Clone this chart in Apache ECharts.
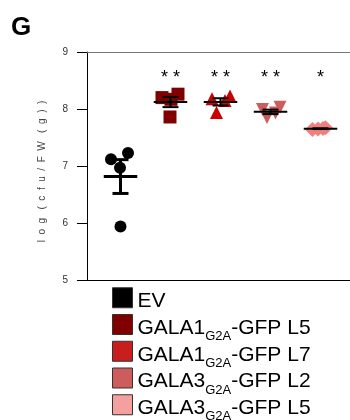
<!DOCTYPE html>
<html><head><meta charset="utf-8">
<script src="https://cdn.jsdelivr.net/npm/echarts@6/dist/echarts.min.js"></script>
<style>html,body{margin:0;padding:0;background:#fff}#c{width:350px;height:420px}</style>
</head><body><div id="c"></div>
<script>
// ---- data ----
const groupNames = ['EV', 'GALA1|G2A|-GFP L5', 'GALA1|G2A|-GFP L7', 'GALA3|G2A|-GFP L2', 'GALA3|G2A|-GFP L5'];
const evValues = [7.12, 7.23, 6.97, 5.94];
const gala1L5Values = [8.20, 8.26, 8.17, 7.86];
const gala1L7Values = [8.18, 8.23, 8.15, 7.94];
const gala3L2Values = [7.99, 7.85, 8.03, 7.93];
const gala3L5Values = [7.64, 7.67, 7.65, 7.66];
const jitter = [
  [-0.19, 0.15, -0.01, 0.0],
  [-0.17, 0.15, 0.01, -0.01],
  [-0.17, 0.19, 0.09, -0.08],
  [-0.16, -0.07, 0.19, 0.10],
  [-0.16, 0.10, -0.05, 0.05]
];
const significance = ['', '* *', '* *', '* *', '*'];
const yTicks = [5, 6, 7, 8, 9];
const yTitle = 'l  o  g   (  c  f  u  /  F  W   (  g  )  )';

// ---- styles ----
const allValues = [evValues, gala1L5Values, gala1L7Values, gala3L2Values, gala3L5Values];
const markerColors = ['#000000', '#800000', '#cc0000', '#cd5c5c', '#f08080'];
const legendColors = ['#000000', '#800000', '#c81e1e', '#cd5c5c', '#f4a0a0'];
const symbols = ['circle', 'rect', 'triangle', 'triangle', 'diamond'];
const rotations = [0, 0, 0, 180, 0];
const sizes = [12, 13, 13, 13, 15];
const FONT = '"Liberation Sans", Arial, sans-serif';

function stats(arr) {
  const n = arr.length;
  const m = arr.reduce((a, b) => a + b, 0) / n;
  const sd = Math.sqrt(arr.reduce((a, b) => a + (b - m) * (b - m), 0) / (n - 1));
  return { mean: m, sem: sd / Math.sqrt(n) };
}

const scatterSeries = allValues.map((vals, g) => ({
  type: 'scatter',
  name: groupNames[g],
  symbol: symbols[g],
  symbolRotate: rotations[g],
  symbolSize: sizes[g],
  itemStyle: { color: markerColors[g], opacity: 1 },
  z: 2,
  data: vals.map((v, i) => [g + 1 + jitter[g][i], v])
}));

const summaryData = allValues.map((vals, g) => {
  const s = stats(vals);
  return [g + 1, s.mean, s.sem, g];
});

const summarySeries = {
  type: 'custom',
  name: 'summary',
  z: 5,
  silent: true,
  data: summaryData,
  renderItem: function (params, api) {
    const x = api.value(0), m = api.value(1), se = api.value(2), g = api.value(3);
    const c = api.coord([x, m]);
    const hi = api.coord([x, m + se]);
    const lo = api.coord([x, m - se]);
    const halfMean = api.size([0.335, 0])[0];
    const halfCap = api.size([0.16, 0])[0];
    const lw = g === 0 ? 3 : 2;
    const st = { stroke: '#000', lineWidth: lw, fill: null };
    const star = api.coord([x, 8.54]);
    const children = [
      { type: 'line', shape: { x1: c[0] - halfMean, y1: c[1], x2: c[0] + halfMean, y2: c[1] }, style: st },
      { type: 'line', shape: { x1: c[0], y1: hi[1], x2: c[0], y2: lo[1] }, style: st },
      { type: 'line', shape: { x1: c[0] - halfCap, y1: hi[1], x2: c[0] + halfCap, y2: hi[1] }, style: st },
      { type: 'line', shape: { x1: c[0] - halfCap, y1: lo[1], x2: c[0] + halfCap, y2: lo[1] }, style: st }
    ];
    if (significance[g]) {
      children.push({ type: 'text', style: { text: significance[g], x: star[0], y: star[1], align: 'center', verticalAlign: 'middle', font: '18px ' + FONT, fill: '#000' } });
    }
    return { type: 'group', children: children };
  }
};

function legendLabel(name) {
  const parts = name.split('|');
  if (parts.length === 1) return '{m|' + parts[0] + '}';
  return '{m|' + parts[0] + '}{s|' + parts[1] + '}{m|' + parts[2] + '}';
}

const option = {
  animation: false,
  backgroundColor: '#fff',
  grid: { left: 87, right: 0, top: 52, bottom: 140, containLabel: false },
  xAxis: [
    { type: 'value', min: 0.33, max: 5.59, position: 'bottom',
      axisLine: { show: true, onZero: false, lineStyle: { color: '#000', width: 1 } },
      axisTick: { show: false }, axisLabel: { show: false }, splitLine: { show: false } },
    { type: 'value', min: 0.33, max: 5.59, position: 'top',
      axisLine: { show: true, onZero: false, lineStyle: { color: '#777', width: 1 } },
      axisTick: { show: false }, axisLabel: { show: false }, splitLine: { show: false } }
  ],
  yAxis: {
    type: 'value', min: yTicks[0], max: yTicks[yTicks.length - 1], interval: 1,
    name: yTitle, nameLocation: 'middle', nameGap: 40,
    nameTextStyle: { fontSize: 10, color: '#444', fontFamily: FONT, padding: [0, 11, 0, 0] },
    axisLine: { show: true, lineStyle: { color: '#000', width: 1 } },
    axisTick: { show: true, inside: false, length: 10, lineStyle: { color: '#000' } },
    axisLabel: { fontSize: 10, color: '#333', fontFamily: FONT, margin: 19 },
    splitLine: { show: false }
  },
  legend: {
    orient: 'vertical', left: 112, top: 286.75, padding: 0, height: 200,
    itemWidth: 20, itemHeight: 20, itemGap: -5.75,
    icon: 'rect',
    itemStyle: { borderColor: '#333', borderWidth: 1 },
    data: groupNames.map((n, g) => ({ name: n, icon: 'rect', itemStyle: { color: legendColors[g], borderColor: '#333', borderWidth: 1 } })),
    formatter: legendLabel,
    textStyle: {
      color: '#000', fontFamily: FONT,
      rich: {
        m: { fontSize: 21, fontFamily: FONT, color: '#000', lineHeight: 22, padding: [4, 0, 7.5, 0], verticalAlign: 'top' },
        s: { fontSize: 13, fontFamily: FONT, color: '#000', lineHeight: 22, padding: [16.5, 0, 0, 0], verticalAlign: 'top' }
      }
    }
  },
  graphic: [
    { type: 'text', left: 11, top: 15, style: { text: 'G', font: 'bold 26px ' + FONT, fill: '#000' } }
  ],
  series: scatterSeries.concat([summarySeries])
};

const chart = echarts.init(document.getElementById('c'), null, { renderer: 'canvas' });
chart.setOption(option);
</script>
</body></html>
